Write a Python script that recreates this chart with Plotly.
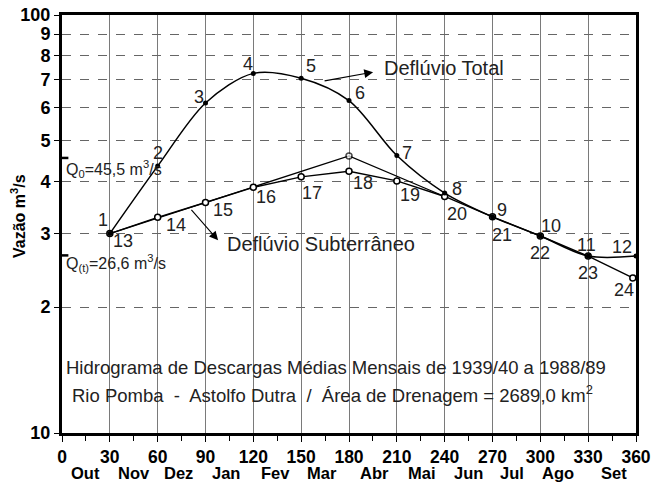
import math
import plotly.graph_objects as go

# ---------------- data ----------------
days = [30, 60, 90, 120, 150, 180, 210, 240, 270, 300, 330, 360]
total_flow = [30.0, 43.5, 61.6, 72.5, 70.6, 62.4, 46.1, 37.5, 32.9, 29.6, 26.5, 26.5]
total_labels = ["1", "2", "3", "4", "5", "6", "7", "8", "9", "10", "11", "12"]

base_days = [30, 60, 90, 120, 150, 180, 210, 240, 270, 300, 330, 358]
base_flow = [30.0, 32.8, 35.6, 38.7, 41.0, 42.3, 40.1, 36.8, 32.9, 29.6, 26.5, 23.5]
base_labels = ["13", "14", "15", "16", "17", "18", "19", "20", "21", "22", "23", "24"]

recess_days = [30, 180, 240]
recess_flow = [30.0, 46.0, 36.8]

q0 = 45.5
qt = 26.6

x_ticks = list(range(0, 361, 30))
x_minor = list(range(15, 360, 30))
y_ticks = [10, 20, 30, 40, 50, 60, 70, 80, 90, 100]
y_ticktext = ["10", "2", "3", "4", "5", "6", "7", "8", "9", "100"]
months = ["Out", "Nov", "Dez", "Jan", "Fev", "Mar", "Abr", "Mai", "Jun", "Jul", "Ago", "Set"]
month_x = [15, 45, 73, 103, 134, 163, 196, 226, 255, 282, 311, 346]

FONT = "Liberation Sans, Arial, sans-serif"
TXT = "#222222"

fig = go.Figure()

# recession construction line
fig.add_trace(go.Scatter(
    x=recess_days, y=recess_flow, mode="lines+markers",
    line=dict(color="black", width=1.3),
    marker=dict(size=[0, 6, 0], color="white", line=dict(color="black", width=1.5)),
    hoverinfo="skip", showlegend=False))

# baseflow
fig.add_trace(go.Scatter(
    x=base_days, y=base_flow, mode="lines+markers",
    line=dict(color="black", width=1.4),
    marker=dict(size=6, color="white", line=dict(color="black", width=1.5)),
    showlegend=False))

# total flow
fig.add_trace(go.Scatter(
    x=days, y=total_flow, mode="lines+markers",
    line=dict(color="black", width=1.5, shape="spline", smoothing=0.9),
    marker=dict(size=5, color="black"),
    showlegend=False))

# Q0 / Q(t) tick marks on the left axis
for q in (q0, qt):
    fig.add_trace(go.Scatter(x=[0, 4], y=[q, q], mode="lines",
                             line=dict(color="black", width=2.5),
                             cliponaxis=False, showlegend=False, hoverinfo="skip"))

ann = []
# point labels (pixel offsets from each point)
tot_off = [(-7, 14), (0, 13), (-7, 6), (-5, 9), (10, 12), (11, 8), (10, 3),
           (12, 4), (9, 7), (11, 10), (-2, 11), (-14, 9)]
base_off = [(13, -7), (18, -8), (17, -8), (13, -10), (11, -16), (14, -12),
            (13, -14), (12, -18), (9, -18), (0, -17), (0, -17), (-9, -12)]
for x, y, t, (dx, dy) in zip(days, total_flow, total_labels, tot_off):
    ann.append(dict(x=x, y=math.log10(y), text=t, showarrow=False, xshift=dx, yshift=dy,
                    font=dict(size=18, color=TXT, family=FONT)))
for x, y, t, (dx, dy) in zip(base_days, base_flow, base_labels, base_off):
    ann.append(dict(x=x, y=math.log10(y), text=t, showarrow=False, xshift=dx, yshift=dy,
                    font=dict(size=18, color=TXT, family=FONT)))

# arrows
ann.append(dict(x=195.1, y=math.log10(73.0), ax=-50, ay=9, showarrow=True,
                arrowhead=2, arrowsize=1.6, arrowwidth=1.1, arrowcolor="black", text=""))
ann.append(dict(x=201.0, y=math.log10(74.5), text="Deflúvio Total", showarrow=False,
                xanchor="left", font=dict(size=20, color=TXT, family=FONT)))
ann.append(dict(x=97.9, y=math.log10(28.9), ax=-28, ay=-32, showarrow=True,
                arrowhead=2, arrowsize=1.6, arrowwidth=1.1, arrowcolor="black", text=""))
ann.append(dict(x=102.0, y=math.log10(28.3), text="Deflúvio Subterrâneo", showarrow=False,
                xanchor="left", font=dict(size=20, color=TXT, family=FONT)))

# Q labels
ann.append(dict(x=1.0, y=math.log10(42.8), text="Q<sub>0</sub>=45,5 m<sup>3</sup>/s",
                showarrow=False, xanchor="left", font=dict(size=16, color=TXT, family=FONT)))
ann.append(dict(x=1.0, y=math.log10(25.5), text="Q<sub>(t)</sub>=26,6 m<sup>3</sup>/s",
                showarrow=False, xanchor="left", font=dict(size=16, color=TXT, family=FONT)))

# inner captions
ann.append(dict(x=(336 - 62) / 574, xref="paper", y=(433 - 380) / 418, yref="paper",
                text="Hidrograma de Descargas Médias Mensais de 1939/40 a 1988/89",
                showarrow=False, xanchor="center",
                font=dict(size=18.5, color=TXT, family=FONT)))
ann.append(dict(x=(332 - 62) / 574, xref="paper", y=(433 - 408) / 418, yref="paper",
                text="Rio Pomba  -  Astolfo Dutra  /  Área de Drenagem = 2689,0 km<sup>2</sup>",
                showarrow=False, xanchor="center",
                font=dict(size=18.5, color=TXT, family=FONT)))

# month labels
for m, mx in zip(months, month_x):
    ann.append(dict(x=mx, xref="x", y=-40 / 418, yref="paper", text="<b>%s</b>" % m,
                    showarrow=False, yanchor="middle", xanchor="center",
                    font=dict(size=16.5, color="black", family=FONT)))

# y axis title
ann.append(dict(x=-44 / 574, xref="paper", y=(433 - 216) / 418, yref="paper",
                text="<b>Vazão m<sup>3</sup>/s</b>", xanchor="center", yanchor="middle",
                textangle=-90, showarrow=False, font=dict(size=16, color="black", family=FONT)))

fig.update_layout(
    width=651, height=486,
    margin=dict(l=62, r=15, t=15, b=53),
    plot_bgcolor="white", paper_bgcolor="white",
    font=dict(family=FONT),
    annotations=ann,
    showlegend=False,
)
fig.update_xaxes(
    automargin=False, ticklabeloverflow="allow",
    range=[0, 360], tickmode="array", tickvals=x_ticks,
    ticktext=["<b>%d</b>" % v for v in x_ticks],
    tickfont=dict(size=17.5, color="black", family=FONT),
    ticks="outside", ticklen=6, tickcolor="black",
    showgrid=True, gridcolor="#7a7a7a", gridwidth=1,
    minor=dict(tickmode="array", tickvals=x_minor, ticks="outside", ticklen=5,
               tickcolor="black", showgrid=False),
    showline=True, linecolor="black", linewidth=3, mirror=True, zeroline=False,
)
fig.update_yaxes(
    automargin=False, ticklabeloverflow="allow",
    type="log", range=[1, 2], tickmode="array", tickvals=y_ticks,
    ticktext=["<b>%s</b>" % t for t in y_ticktext],
    tickfont=dict(size=18, color="black", family=FONT),
    ticks="outside", ticklen=5, tickcolor="black",
    showgrid=True, gridcolor="#666666", gridwidth=1, griddash="dash",
    showline=True, linecolor="black", linewidth=3, mirror=True, zeroline=False,
)

# remove the default 8px page margin so the 651x486 figure fills the window
fig.write_html("out.html", config={"displayModeBar": False},
               post_script="document.body.style.margin='0px';")
